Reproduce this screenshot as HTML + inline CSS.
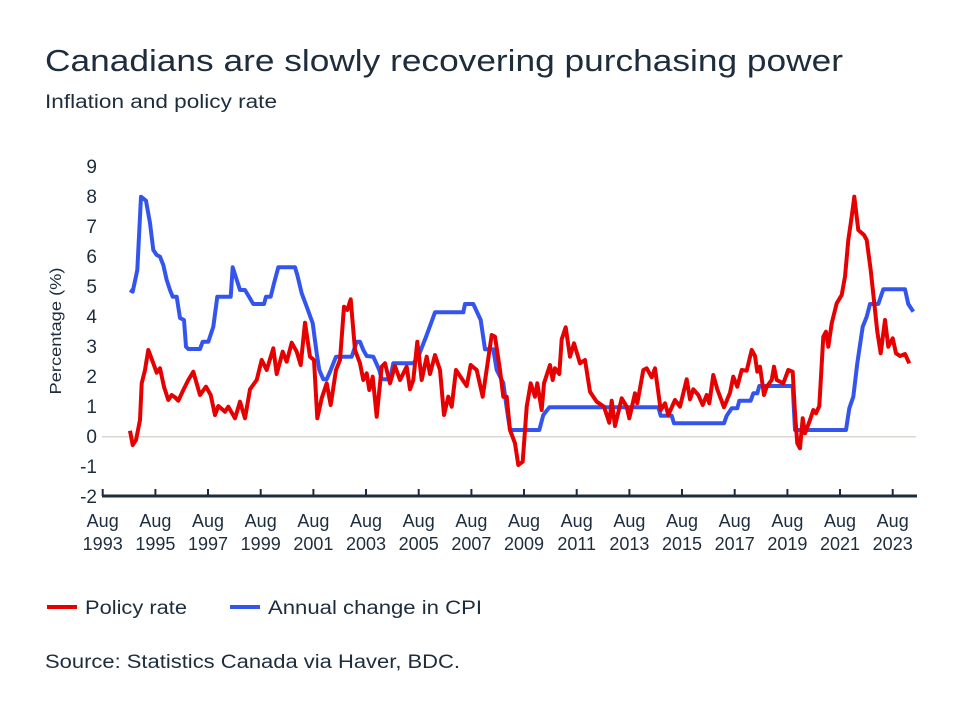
<!DOCTYPE html>
<html><head><meta charset="utf-8"><style>
html,body{margin:0;padding:0;background:#fff;}
svg{display:block;font-family:"Liberation Sans",sans-serif;}
</style></head><body>
<svg width="960" height="720" viewBox="0 0 960 720" xmlns="http://www.w3.org/2000/svg">
<rect width="960" height="720" fill="#fff"/>
<g fill="#1d2d3d">
<text x="45" y="71" font-size="31" textLength="798" lengthAdjust="spacingAndGlyphs">Canadians are slowly recovering purchasing power</text>
<text x="45" y="108" font-size="19" textLength="232" lengthAdjust="spacingAndGlyphs">Inflation and policy rate</text>
<g font-size="19" text-anchor="end">
<text x="97" y="173">9</text><text x="97" y="203">8</text><text x="97" y="233">7</text><text x="97" y="263">6</text><text x="97" y="293">5</text><text x="97" y="323">4</text><text x="97" y="353">3</text><text x="97" y="383">2</text><text x="97" y="413">1</text><text x="97" y="443">0</text><text x="97" y="473">-1</text><text x="97" y="503">-2</text>
</g>
<text transform="translate(61,331) rotate(-90)" font-size="16" text-anchor="middle" textLength="127" lengthAdjust="spacingAndGlyphs">Percentage (%)</text>
</g>
<line x1="102" y1="436.7" x2="916" y2="436.7" stroke="#ddd6d0" stroke-width="1.5"/>
<line x1="102" y1="496" x2="917" y2="496" stroke="#1d2d3d" stroke-width="3"/>
<g stroke="#1d2d3d" stroke-width="2">
<line x1="102.7" y1="489" x2="102.7" y2="496"/><line x1="155.4" y1="489" x2="155.4" y2="496"/><line x1="208" y1="489" x2="208" y2="496"/><line x1="260.7" y1="489" x2="260.7" y2="496"/><line x1="313.4" y1="489" x2="313.4" y2="496"/><line x1="366" y1="489" x2="366" y2="496"/><line x1="418.7" y1="489" x2="418.7" y2="496"/><line x1="471.4" y1="489" x2="471.4" y2="496"/><line x1="524" y1="489" x2="524" y2="496"/><line x1="576.7" y1="489" x2="576.7" y2="496"/><line x1="629.4" y1="489" x2="629.4" y2="496"/><line x1="682" y1="489" x2="682" y2="496"/><line x1="734.7" y1="489" x2="734.7" y2="496"/><line x1="787.4" y1="489" x2="787.4" y2="496"/><line x1="840" y1="489" x2="840" y2="496"/><line x1="892.7" y1="489" x2="892.7" y2="496"/>
</g>
<g fill="#1d2d3d" font-size="18" text-anchor="middle">
<text x="102.7" y="527">Aug</text><text x="102.7" y="550">1993</text>
<text x="155.4" y="527">Aug</text><text x="155.4" y="550">1995</text>
<text x="208" y="527">Aug</text><text x="208" y="550">1997</text>
<text x="260.7" y="527">Aug</text><text x="260.7" y="550">1999</text>
<text x="313.4" y="527">Aug</text><text x="313.4" y="550">2001</text>
<text x="366" y="527">Aug</text><text x="366" y="550">2003</text>
<text x="418.7" y="527">Aug</text><text x="418.7" y="550">2005</text>
<text x="471.4" y="527">Aug</text><text x="471.4" y="550">2007</text>
<text x="524" y="527">Aug</text><text x="524" y="550">2009</text>
<text x="576.7" y="527">Aug</text><text x="576.7" y="550">2011</text>
<text x="629.4" y="527">Aug</text><text x="629.4" y="550">2013</text>
<text x="682" y="527">Aug</text><text x="682" y="550">2015</text>
<text x="734.7" y="527">Aug</text><text x="734.7" y="550">2017</text>
<text x="787.4" y="527">Aug</text><text x="787.4" y="550">2019</text>
<text x="840" y="527">Aug</text><text x="840" y="550">2021</text>
<text x="892.7" y="527">Aug</text><text x="892.7" y="550">2023</text>
</g>
<polyline fill="none" stroke="#3355ee" stroke-width="4" stroke-linejoin="round" points="130,290 132.7,291.7 137.3,270 141,196.7 146,200.7 150,223 153.3,250 156.7,255 160,256.7 163.3,265 166.7,280 170,290 172.7,296.7 176.7,296.7 180,318 184,320 186,346.7 188.3,349 200,349 202.7,341.7 208.3,341.7 213.3,326.7 217.3,296.7 230.7,296.7 232.7,267.3 240,290 245,290 253.3,304 264,304 266,296.7 270.7,296.7 274,283.3 278.3,267.3 295,267.3 297.3,275 301.7,293.3 306.7,306.7 312.7,323.3 316.7,353.3 319.3,370 323.3,379.3 326.7,379.3 330,371.7 336,356.7 351.7,356.7 356.7,341.7 360,341.7 363.3,350 366.7,356 373.3,356.7 379.3,370 381.7,379.3 390,379.3 393.3,363.3 413.3,363.3 418.3,356.7 426.7,335 435,312.3 463.3,312.3 465,304 473.3,304 480.7,320 485,349.3 493.3,349.3 496.7,370 503.3,383 506.7,408 510,430 539.3,430 543.3,415 549.3,407.3 658.3,407.3 660.7,415.7 671.7,415.7 674,423.3 724,423.3 726.7,415.7 731.7,408.3 737.3,408.3 739.3,400.7 750.7,400.7 753.3,393.3 757.3,393.3 759.3,386 792.7,386 795,430 846,430 849.3,408.3 853.3,396.7 857.3,363.3 862.7,326.7 866.7,316.7 870,304 878.3,304 883.3,289.3 905,289.3 908.3,304 913.3,311.7"/>
<polyline fill="none" stroke="#e60000" stroke-width="4" stroke-linejoin="round" points="130,430.7 132.7,445 136,440 140,420 141.7,383.3 145,370 148.3,350 153.3,363.3 156.7,372.7 160,368.3 164,386.7 168.3,400 171.7,395 175,397.3 178.3,400.7 183.3,390 188.3,380 193.3,371.7 200,395 206,386.7 210.7,395 215,415 218.3,406 225,411.7 228.3,406.7 235,418.3 240,401.7 245,418.3 250,389.3 256.7,380 261.7,360 266.7,370 273.3,348.3 276.7,374 282.7,351.7 286.7,361.7 291.7,342.7 296.7,351.7 300.7,365 305,322.7 310,356.7 314,360 317.3,418.3 321.7,398.3 326.7,383.3 330.7,405 336,370 340,360 344,306.7 347.3,310 350.7,299.3 355,350 360,363.3 363.3,380 366.7,373.3 369.3,390 372.7,376.7 376.7,416.7 381.7,366.7 385,363.3 390,383.3 395,366 400,380 406.7,366.7 410,389.3 413.3,380 417.3,341.7 421.7,380 426.7,356.7 430,374 435,355 440,370 444,415 448.3,396.7 451.7,406.7 456,370 466.7,386 470.7,365 476.7,370 482.7,396.7 491.7,335 495,336.7 500,370 503.3,396.7 506.7,396.7 510,430 515,443.3 518.3,465 522.7,461.7 526.7,406.7 530.7,383.3 535,396.7 537.3,383.3 541.7,410 544,383.3 550,365 552.7,380 555,368.3 559.3,374 561.7,339.3 565.7,327.3 570,356.7 574,343.3 580,363.3 585,360 590,391.7 596.7,401.7 604,406.7 609.3,422.7 611.7,400.7 615,426 621.7,398.3 626.7,406.7 629.3,418.3 635,393.3 637.3,403.3 643.3,370 646.7,368.3 651.7,377.3 655,368.3 660.7,410 665,403.3 668.3,415 675,400 680,406.7 686.7,379.3 690,399.3 693.3,389.3 698.3,395 702.7,405 706.7,395 709.3,403.3 713.3,375 717.3,389.3 724,407.3 730,392.7 733.3,376.7 737.3,386.7 741.7,370 746.7,370.7 751.7,350 755,356 757.3,371.7 760,366.7 764,395 766.7,386.7 771.7,380 774,366.7 776.7,380 783.3,383.3 788.3,370 792.7,371.7 795,413.3 797.3,443.3 800,448.3 802.7,418.3 805,433.3 810,420 813.3,410 816,413.3 819.3,406 823.3,336.7 826,331.7 828.3,346.7 831.7,323.3 836.7,303.3 841.7,295 845,276.7 848.3,240 851.7,216.7 854.3,196.7 858.3,230 864,235 866.7,240 870.7,270 875,310 877.3,331.7 880.7,353.3 885,320 888.3,346.7 892.7,338.3 896,353.3 900,356 905,354 909.3,363.3"/>
<line x1="47" y1="607" x2="77" y2="607" stroke="#e60000" stroke-width="4"/>
<line x1="230" y1="607" x2="260" y2="607" stroke="#3355ee" stroke-width="4"/>
<g fill="#1d2d3d" font-size="19">
<text x="85" y="614" textLength="102" lengthAdjust="spacingAndGlyphs">Policy rate</text>
<text x="268" y="614" textLength="214" lengthAdjust="spacingAndGlyphs">Annual change in CPI</text>
<text x="45" y="668" textLength="415" lengthAdjust="spacingAndGlyphs">Source: Statistics Canada via Haver, BDC.</text>
</g>
</svg>
</body></html>
